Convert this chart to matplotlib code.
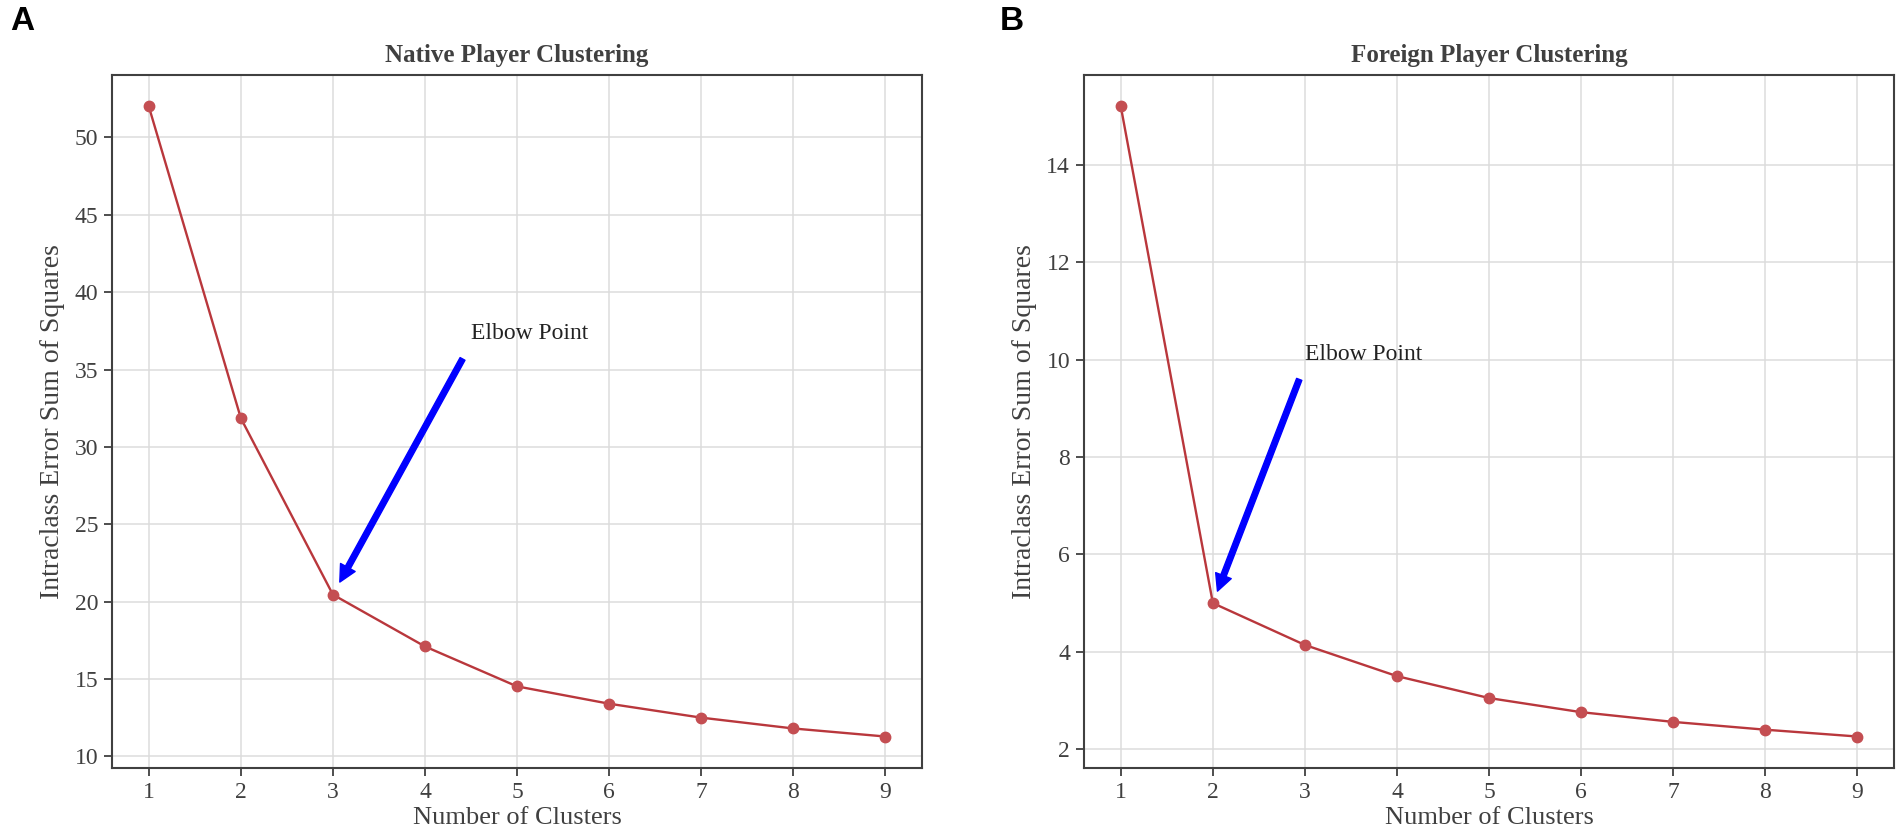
import matplotlib
matplotlib.use('Agg')
import matplotlib.pyplot as plt

# ---- data ----
clusters = [1, 2, 3, 4, 5, 6, 7, 8, 9]
native_sse = [52.0, 31.85, 20.45, 17.1, 14.52, 13.4, 12.5, 11.8, 11.28]
foreign_sse = [15.2, 5.0, 4.14, 3.5, 3.05, 2.76, 2.56, 2.40, 2.26]
titles = ['Native Player Clustering', 'Foreign Player Clustering']
panel_labels = ['A', 'B']
xlabel = 'Number of Clusters'
ylabel = 'Intraclass Error Sum of Squares'
elbow_text = 'Elbow Point'
elbow_k = [3, 2]
elbow_text_pos = [(4.5, 37), (3, 10)]

SERIF = 'Liberation Serif'
DARK = '#404040'
LINE_C = '#b9373c'
MARK_C = '#c44e52'

W, H = 1902, 838
fig = plt.figure(figsize=(W / 100, H / 100), dpi=100)

ax_lefts = [112, 1084]
ax_top, ax_bot = 75, 768
ax_w = 810
axes = []
for left in ax_lefts:
    ax = fig.add_axes([left / W, 1 - ax_bot / H, ax_w / W, (ax_bot - ax_top) / H])
    axes.append(ax)

series = [native_sse, foreign_sse]
for i, ax in enumerate(axes):
    y = series[i]
    ax.plot(clusters, y, color=LINE_C, linewidth=1.7, zorder=3)
    ax.plot(clusters, y, linestyle='none', marker='o', markersize=7.5,
            color=MARK_C, zorder=4)
    ax.set_xticks(clusters)
    ax.grid(True, color='#dcdcdc', linewidth=1.1)
    ax.set_axisbelow(True)
    for sp in ax.spines.values():
        sp.set_color(DARK)
        sp.set_linewidth(1.5)
    ax.tick_params(direction='out', length=6, width=1.3, color=DARK,
                   labelsize=17, labelcolor=DARK, pad=4)
    for lab in ax.get_xticklabels() + ax.get_yticklabels():
        lab.set_family(SERIF)
    ax.set_title(titles[i], fontsize=18, fontweight='bold', color=DARK,
                 family=SERIF, pad=9.5)
    ax.set_xlabel(xlabel, fontsize=19, color=DARK, family=SERIF, labelpad=3)
    ax.set_ylabel(ylabel, fontsize=20, color=DARK, family=SERIF, labelpad=7)
    k = elbow_k[i]
    ax.annotate(elbow_text, xy=(k, y[clusters.index(k)]), xytext=elbow_text_pos[i],
                fontsize=17, family=SERIF, color='#222222',
                arrowprops=dict(facecolor='blue', edgecolor='blue', shrink=0.05))

fig.text(10 / W, 1 - 6 / H, panel_labels[0], ha='left', va='top', fontsize=24,
         fontweight='bold', family='Liberation Sans', color='black')
fig.text(1000 / W, 1 - 6 / H, panel_labels[1], ha='left', va='top', fontsize=24,
         fontweight='bold', family='Liberation Sans', color='black')

fig.savefig('out.png', dpi=100, facecolor='white')
